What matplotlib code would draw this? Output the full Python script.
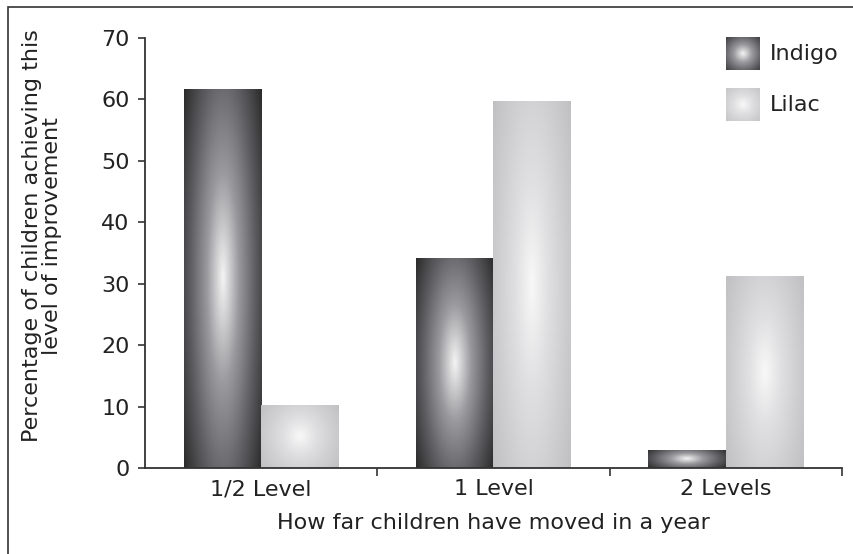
import numpy as np
import matplotlib
matplotlib.use('Agg')
import matplotlib.pyplot as plt
from matplotlib.patches import Rectangle
from matplotlib.colors import LinearSegmentedColormap

categories = ['1/2 Level', '1 Level', '2 Levels']
series_names = ['Indigo', 'Lilac']
indigo = [61.7, 34.2, 3.0]
lilac = [10.3, 59.7, 31.3]

plt.rcParams['font.family'] = ['DejaVu Sans']
txt = '#222222'

# radial shading used for the bars
dark_cmap = LinearSegmentedColormap.from_list('dk', ['#f4f4f4', '#9a9a9e', '#5f5f63', '#2a2a2a'])
light_cmap = LinearSegmentedColormap.from_list('lt', ['#f8f8f8', '#e0e0e2', '#cfcfd1', '#c0c0c2'])


def shade(n=200, ky=0.55):
    yy, xx = np.mgrid[-1:1:n * 1j, -1:1:n * 1j]
    r = np.sqrt(xx ** 2 + ky * yy ** 2) / np.sqrt(1 + ky)
    return np.clip(r, 0, 1)


grad = shade()

fig = plt.figure(figsize=(8.54, 5.54), dpi=100)
ax = fig.add_axes([145 / 854, 1 - 468 / 554, (842 - 145) / 854, (468 - 38) / 554])

w = 1 / 3
x = np.arange(len(categories))
for vals, off, cmap in [(indigo, -w / 2, dark_cmap), (lilac, w / 2, light_cmap)]:
    bars = ax.bar(x + off, vals, width=w, facecolor='none', edgecolor='none')
    for b in bars:
        x0, y0 = b.get_x(), b.get_y()
        im = ax.imshow(grad, cmap=cmap, vmin=0, vmax=1, aspect='auto',
                       extent=[x0, x0 + b.get_width(), y0, y0 + b.get_height()],
                       interpolation='bilinear', zorder=2)
        im.set_clip_path(b)

ax.set_xlim(-0.5, 2.5)
ax.set_ylim(0, 70)
ax.set_yticks(range(0, 71, 10))
ax.set_xticks(x)
ax.set_xticklabels(categories)
ax.set_xticks([0.5, 1.5, 2.5], minor=True)
ax.tick_params(axis='x', which='major', length=0, pad=8, labelsize=16, colors=txt)
ax.tick_params(axis='x', which='minor', length=6, width=1.2, color='#333333', direction='out')
ax.tick_params(axis='y', length=5, width=1.2, color='#333333', labelsize=16, colors=txt, pad=6)
for s in ['top', 'right']:
    ax.spines[s].set_visible(False)
for s in ['left', 'bottom']:
    ax.spines[s].set_color('#333333')
    ax.spines[s].set_linewidth(1.3)

ax.set_xlabel('How far children have moved in a year', fontsize=16, color=txt, labelpad=10)
ax.set_ylabel('Percentage of children achieving this\nlevel of improvement', fontsize=16,
              color=txt, linespacing=0.98)
ax.yaxis.set_label_coords(-0.119, 0.54)

# legend drawn as shaded squares
for i, (name, cmap) in enumerate(zip(series_names, [dark_cmap, light_cmap])):
    top = 37 + i * 51
    lax = fig.add_axes([726 / 854, 1 - (top + 33) / 554, 34 / 854, 33 / 554])
    lax.imshow(shade(ky=1.0), cmap=cmap, vmin=0, vmax=1.15, aspect='auto', interpolation='bilinear')
    lax.axis('off')
    fig.text(770 / 854, 1 - (top + 17) / 554, name, fontsize=16, color=txt, va='center', ha='left')

fig.add_artist(Rectangle((8 / 854, -0.1), 2, 1 - 7 / 554 + 0.1, fill=False, lw=1.2,
                         edgecolor='#333333', transform=fig.transFigure))

fig.savefig('out.png', dpi=100)
